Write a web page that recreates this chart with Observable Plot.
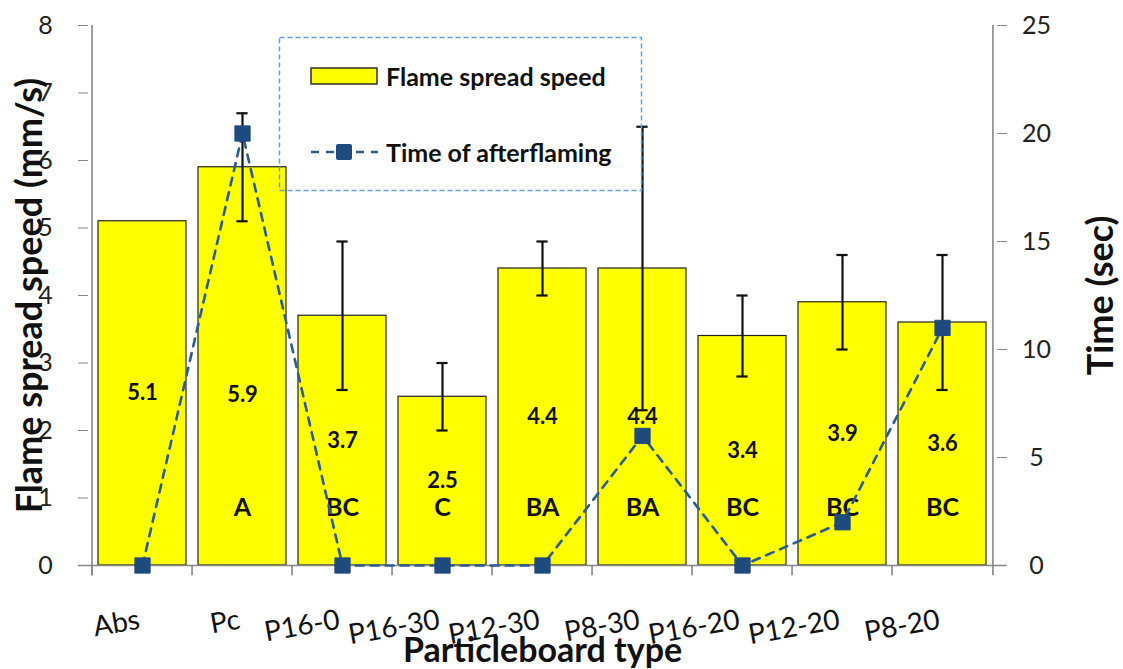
<!DOCTYPE html>
<html>
<head>
<meta charset="utf-8">
<script src="https://cdn.jsdelivr.net/npm/d3@7"></script>
<script src="https://cdn.jsdelivr.net/npm/@observablehq/plot@0.6"></script>
<style>
  body { margin: 0; background: #fff; }
  #wrap { position: relative; width: 1123px; height: 669px; font-family: Lato, "Open Sans", sans-serif; }
  #legend { position: absolute; left: 278px; top: 36px; width: 366px; height: 156px; pointer-events: none; }
  #legend > svg.box { position: absolute; left: 0; top: 0; }
  .lg { position: absolute; left: 32px; display: flex; align-items: center; font-size: 25px; font-weight: bold; color: #111; }
  .lg svg { margin-right: 8px; }
</style>
</head>
<body>
<div id="wrap"></div>
<script>
// ---- data ----
const categories = ["Abs", "Pc", "P16-0", "P16-30", "P12-30", "P8-30", "P16-20", "P12-20", "P8-20"];
const flameSpeed = [5.1, 5.9, 3.7, 2.5, 4.4, 4.4, 3.4, 3.9, 3.6];
const errLow  = [null, 5.1, 2.6, 2.0, 4.0, 2.3, 2.8, 3.2, 2.6];
const errHigh = [null, 6.7, 4.8, 3.0, 4.8, 6.5, 4.0, 4.6, 4.6];
const groupLetters = ["", "A", "BC", "C", "BA", "BA", "BC", "BC", "BC"];
const afterflameTime = [0, 20, 0, 0, 0, 6, 0, 2, 11];
const leftTicks = [0, 1, 2, 3, 4, 5, 6, 7, 8];
const rightTicks = [0, 5, 10, 15, 20, 25];
const seriesNames = ["Flame spread speed", "Time of afterflaming"];
const axisTitles = { x: "Particleboard type", yLeft: "Flame spread speed (mm/s)", yRight: "Time (sec)" };

// ---- layout ----
const W = 1123, H = 669, mL = 88, mR = 127, mT = 25, mB = 104;
const step = (W - mL - mR) / categories.length;
const bw = step * 0.88;
const k = 8 / 25; // right-axis (time) -> left-axis units

const rows = categories.map((c, i) => ({
  c, v: flameSpeed[i], lo: errLow[i], hi: errHigh[i], g: groupLetters[i], t: afterflameTime[i] * k
}));
const errRows = rows.filter(d => d.lo != null);

const markBlue = "#1f4a7e";
const lineBlue = "#2c5a92";
const axisGray = "#868686";

const chart = Plot.plot({
  width: W, height: H,
  marginLeft: mL, marginRight: mR, marginTop: mT, marginBottom: mB,
  style: { fontFamily: "Lato, 'Open Sans', sans-serif", background: "white", overflow: "visible", color: "#222" },
  x: { domain: categories, paddingInner: 0.12, paddingOuter: 0.06, axis: null },
  y: { domain: [0, 8], axis: null },
  marks: [
    Plot.barY(rows, { x: "c", y: "v", fill: "#ffff00", stroke: "#222", strokeWidth: 1.2 }),
    // value labels
    Plot.text(rows.filter(d => d.c !== "Pc"), { x: "c", y: d => d.v / 2, text: d => d.v.toFixed(1), fontSize: 22, fontWeight: "bold", fill: "#111" }),
    Plot.text(rows.filter(d => d.c === "Pc"), { x: "c", y: d => d.v / 2, text: d => d.v.toFixed(1), fontSize: 22, fontWeight: "bold", fill: "#111", dy: 29 }),
    // group letters
    Plot.text(rows, { x: "c", y: 0.85, text: "g", fontSize: 25, fontWeight: "bold", fill: "#111" }),
    // error bars
    Plot.ruleX(errRows, { x: "c", y1: "lo", y2: "hi", stroke: "#111", strokeWidth: 2.2 }),
    Plot.tickY(errRows, { x: "c", y: "lo", stroke: "#111", strokeWidth: 2.2, insetLeft: bw / 2 - 6, insetRight: bw / 2 - 6 }),
    Plot.tickY(errRows, { x: "c", y: "hi", stroke: "#111", strokeWidth: 2.2, insetLeft: bw / 2 - 6, insetRight: bw / 2 - 6 }),
    // axes lines
    Plot.ruleY([0], { stroke: axisGray, strokeWidth: 1.6, insetLeft: -10, insetRight: -10 }),
    Plot.ruleX(categories, { x: d => d, dx: -step / 2, y1: -0.15, y2: 0, stroke: axisGray, strokeWidth: 1.6 }),
    Plot.ruleX(categories.slice(0, 1), { x: d => d, dx: -step / 2, y1: -0.15, y2: 8, stroke: axisGray, strokeWidth: 1.6 }),
    Plot.ruleX(categories.slice(-1), { x: d => d, dx: step / 2, y1: -0.15, y2: 8, stroke: axisGray, strokeWidth: 1.6 }),
    Plot.axisY(leftTicks, { anchor: "left", tickSize: 10, tickPadding: 33, stroke: axisGray, fill: "#222", fontSize: 25, tickFormat: d => d, textAnchor: "middle" }),
    Plot.axisY(rightTicks.map(t => t * k), { anchor: "right", tickSize: 10, tickPadding: 30, stroke: axisGray, fill: "#222", fontSize: 25, tickFormat: d => Math.round(d / k), textAnchor: "middle" }),
    // time of afterflaming
    Plot.line(rows, { x: "c", y: "t", stroke: lineBlue, strokeWidth: 2.6, strokeDasharray: "8,7" }),
    Plot.dot(rows, { x: "c", y: "t", symbol: "square", r: 8.6, fill: markBlue, stroke: markBlue, strokeWidth: 1, strokeLinejoin: "round" }),
    // x tick labels
    Plot.text(categories, { x: d => d, y: 0, dy: 54, dx: -3, text: d => d, textAnchor: "end", rotate: -10, fontSize: 28, fill: "#111" }),
    // axis titles
    Plot.text([axisTitles.x], { frameAnchor: "bottom", lineAnchor: "middle", textAnchor: "middle", dy: 86, text: d => d, fontSize: 34, fontWeight: "bold", fill: "#111" }),
    Plot.text([axisTitles.yLeft], { frameAnchor: "left", lineAnchor: "middle", textAnchor: "middle", dx: -58, text: d => d, rotate: -90, fontSize: 36, fontWeight: "bold", fill: "#111" }),
    Plot.text([axisTitles.yRight], { frameAnchor: "right", lineAnchor: "middle", textAnchor: "middle", dx: 105, text: d => d, rotate: -90, fontSize: 36, fontWeight: "bold", fill: "#111" })
  ]
});

const wrap = document.getElementById("wrap");
wrap.appendChild(chart);

// legend (overlay inside the plot area)
const legend = document.createElement("div");
legend.id = "legend";
legend.innerHTML = `
  <svg class="box" width="366" height="156"><rect x="1.5" y="1.5" width="362" height="153" fill="none" stroke="#6f9bd6" stroke-width="1.5" stroke-dasharray="5,3"/></svg>
  <div class="lg" style="top:25px">
    <svg width="68" height="18"><rect x="1" y="1" width="66" height="16" fill="#ffff00" stroke="#222" stroke-width="1.4"/></svg>
    <span>${seriesNames[0]}</span>
  </div>
  <div class="lg" style="top:101px">
    <svg width="68" height="20"><line x1="0" y1="10" x2="68" y2="10" stroke="${lineBlue}" stroke-width="2.6" stroke-dasharray="8,7" stroke-dashoffset="-1"/>
    <rect x="26" y="2" width="16" height="16" rx="2" fill="${markBlue}"/></svg>
    <span>${seriesNames[1]}</span>
  </div>`;
wrap.appendChild(legend);
</script>
</body>
</html>
